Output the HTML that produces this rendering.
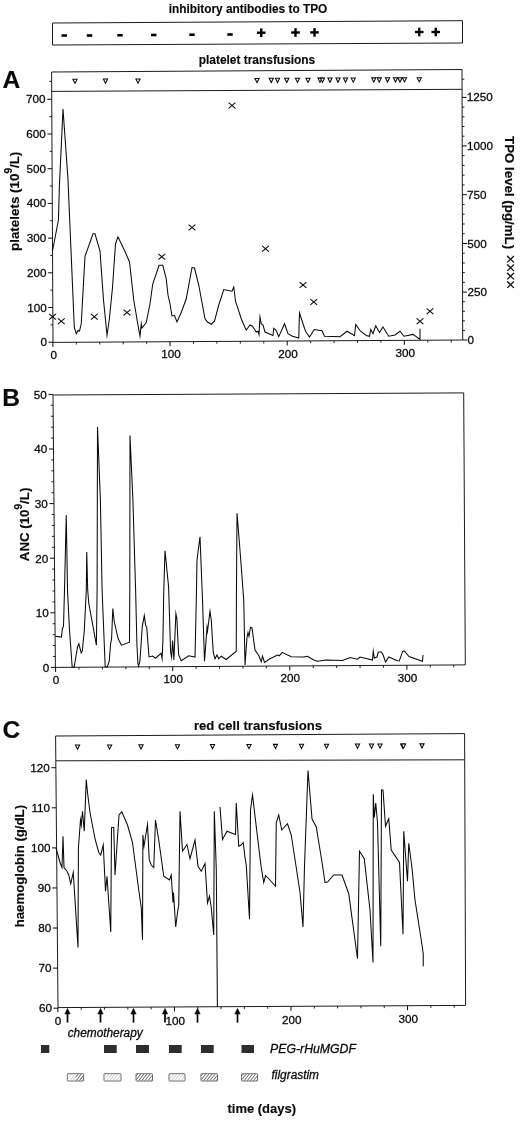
<!DOCTYPE html>
<html lang="en">
<head>
<meta charset="utf-8">
<title>Figure: platelets, ANC and haemoglobin over time</title>
<style>
html,body{margin:0;padding:0;background:#fff;}
body{width:520px;height:1122px;overflow:hidden;}
svg{display:block;}
svg text{font-family:"Liberation Sans", Arial, Helvetica, sans-serif;fill:#0a0a0a;stroke:#0a0a0a;stroke-width:0.28px;}
svg text.b{stroke-width:0.15px;}
</style>
</head>
<body>
<svg width="520" height="1122" viewBox="0 0 520 1122">
<defs>
</defs>
<rect width="520" height="1122" fill="#fff"/>
<polygon points="52.50,23.00 462.50,20.70 462.50,43.00 52.50,45.00" fill="none" stroke="#1c1c1c" stroke-width="1.0" stroke-linejoin="miter" stroke-miterlimit="10"/>
<text x="248.00" y="13.20" class="b" font-size="12" font-weight="bold" font-style="normal" text-anchor="middle" textLength="158.6" lengthAdjust="spacingAndGlyphs">inhibitory antibodies to TPO</text>
<line x1="61.55" y1="35.50" x2="66.95" y2="35.50" stroke="#000" stroke-width="2.6"/>
<line x1="86.80" y1="35.50" x2="92.20" y2="35.50" stroke="#000" stroke-width="2.6"/>
<line x1="117.30" y1="35.25" x2="122.70" y2="35.25" stroke="#000" stroke-width="2.6"/>
<line x1="151.05" y1="35.00" x2="156.45" y2="35.00" stroke="#000" stroke-width="2.6"/>
<line x1="189.30" y1="34.70" x2="194.70" y2="34.70" stroke="#000" stroke-width="2.6"/>
<line x1="227.30" y1="34.50" x2="232.70" y2="34.50" stroke="#000" stroke-width="2.6"/>
<line x1="256.95" y1="32.70" x2="265.55" y2="32.70" stroke="#000" stroke-width="2.4"/>
<line x1="261.25" y1="28.40" x2="261.25" y2="37.00" stroke="#000" stroke-width="2.4"/>
<line x1="291.20" y1="32.50" x2="299.80" y2="32.50" stroke="#000" stroke-width="2.4"/>
<line x1="295.50" y1="28.20" x2="295.50" y2="36.80" stroke="#000" stroke-width="2.4"/>
<line x1="310.20" y1="32.40" x2="318.80" y2="32.40" stroke="#000" stroke-width="2.4"/>
<line x1="314.50" y1="28.10" x2="314.50" y2="36.70" stroke="#000" stroke-width="2.4"/>
<line x1="414.95" y1="32.00" x2="423.55" y2="32.00" stroke="#000" stroke-width="2.4"/>
<line x1="419.25" y1="27.70" x2="419.25" y2="36.30" stroke="#000" stroke-width="2.4"/>
<line x1="431.45" y1="32.00" x2="440.05" y2="32.00" stroke="#000" stroke-width="2.4"/>
<line x1="435.75" y1="27.70" x2="435.75" y2="36.30" stroke="#000" stroke-width="2.4"/>
<text x="257.00" y="64.00" class="b" font-size="12" font-weight="bold" font-style="normal" text-anchor="middle" textLength="116.5" lengthAdjust="spacingAndGlyphs">platelet transfusions</text>
<text x="2.60" y="88.40" class="b" font-size="24.6" font-weight="bold" font-style="normal" text-anchor="start">A</text>
<polygon points="51.60,72.00 462.00,69.50 462.70,340.00 53.00,342.40" fill="none" stroke="#1c1c1c" stroke-width="1.0" stroke-linejoin="miter" stroke-miterlimit="10"/>
<line x1="51.70" y1="91.40" x2="462.00" y2="89.30" stroke="#1c1c1c" stroke-width="1.0"/>
<line x1="48.50" y1="342.20" x2="53.00" y2="342.20" stroke="#0a0a0a" stroke-width="1.0"/>
<text x="46.90" y="346.20" font-size="11.7" font-weight="normal" font-style="normal" text-anchor="end">0</text>
<line x1="50.61" y1="324.85" x2="52.91" y2="324.85" stroke="#0a0a0a" stroke-width="0.9"/>
<line x1="48.32" y1="307.50" x2="52.82" y2="307.50" stroke="#0a0a0a" stroke-width="1.0"/>
<text x="46.72" y="311.50" font-size="11.7" font-weight="normal" font-style="normal" text-anchor="end">100</text>
<line x1="50.43" y1="290.15" x2="52.73" y2="290.15" stroke="#0a0a0a" stroke-width="0.9"/>
<line x1="48.14" y1="272.80" x2="52.64" y2="272.80" stroke="#0a0a0a" stroke-width="1.0"/>
<text x="46.54" y="276.80" font-size="11.7" font-weight="normal" font-style="normal" text-anchor="end">200</text>
<line x1="50.25" y1="255.45" x2="52.55" y2="255.45" stroke="#0a0a0a" stroke-width="0.9"/>
<line x1="47.96" y1="238.10" x2="52.46" y2="238.10" stroke="#0a0a0a" stroke-width="1.0"/>
<text x="46.36" y="242.10" font-size="11.7" font-weight="normal" font-style="normal" text-anchor="end">300</text>
<line x1="50.07" y1="220.75" x2="52.37" y2="220.75" stroke="#0a0a0a" stroke-width="0.9"/>
<line x1="47.78" y1="203.40" x2="52.28" y2="203.40" stroke="#0a0a0a" stroke-width="1.0"/>
<text x="46.18" y="207.40" font-size="11.7" font-weight="normal" font-style="normal" text-anchor="end">400</text>
<line x1="49.89" y1="186.05" x2="52.19" y2="186.05" stroke="#0a0a0a" stroke-width="0.9"/>
<line x1="47.60" y1="168.70" x2="52.10" y2="168.70" stroke="#0a0a0a" stroke-width="1.0"/>
<text x="46.00" y="172.70" font-size="11.7" font-weight="normal" font-style="normal" text-anchor="end">500</text>
<line x1="49.71" y1="151.35" x2="52.01" y2="151.35" stroke="#0a0a0a" stroke-width="0.9"/>
<line x1="47.42" y1="134.00" x2="51.92" y2="134.00" stroke="#0a0a0a" stroke-width="1.0"/>
<text x="45.82" y="138.00" font-size="11.7" font-weight="normal" font-style="normal" text-anchor="end">600</text>
<line x1="49.53" y1="116.65" x2="51.83" y2="116.65" stroke="#0a0a0a" stroke-width="0.9"/>
<line x1="47.24" y1="99.30" x2="51.74" y2="99.30" stroke="#0a0a0a" stroke-width="1.0"/>
<text x="45.64" y="103.30" font-size="11.7" font-weight="normal" font-style="normal" text-anchor="end">700</text>
<line x1="49.35" y1="81.30" x2="51.65" y2="81.30" stroke="#0a0a0a" stroke-width="0.9"/>
<line x1="462.70" y1="340.00" x2="467.20" y2="340.00" stroke="#0a0a0a" stroke-width="1.0"/>
<text x="467.50" y="344.00" font-size="11.7" font-weight="normal" font-style="normal" text-anchor="start">0</text>
<line x1="462.68" y1="330.42" x2="464.98" y2="330.42" stroke="#0a0a0a" stroke-width="0.9"/>
<line x1="462.65" y1="320.84" x2="464.95" y2="320.84" stroke="#0a0a0a" stroke-width="0.9"/>
<line x1="462.63" y1="311.26" x2="464.93" y2="311.26" stroke="#0a0a0a" stroke-width="0.9"/>
<line x1="462.60" y1="301.68" x2="464.90" y2="301.68" stroke="#0a0a0a" stroke-width="0.9"/>
<line x1="462.58" y1="292.10" x2="467.08" y2="292.10" stroke="#0a0a0a" stroke-width="1.0"/>
<text x="467.38" y="296.10" font-size="11.7" font-weight="normal" font-style="normal" text-anchor="start">250</text>
<line x1="462.55" y1="282.38" x2="464.85" y2="282.38" stroke="#0a0a0a" stroke-width="0.9"/>
<line x1="462.53" y1="272.66" x2="464.83" y2="272.66" stroke="#0a0a0a" stroke-width="0.9"/>
<line x1="462.50" y1="262.94" x2="464.80" y2="262.94" stroke="#0a0a0a" stroke-width="0.9"/>
<line x1="462.48" y1="253.22" x2="464.78" y2="253.22" stroke="#0a0a0a" stroke-width="0.9"/>
<line x1="462.45" y1="243.50" x2="466.95" y2="243.50" stroke="#0a0a0a" stroke-width="1.0"/>
<text x="467.25" y="247.50" font-size="11.7" font-weight="normal" font-style="normal" text-anchor="start">500</text>
<line x1="462.43" y1="233.74" x2="464.73" y2="233.74" stroke="#0a0a0a" stroke-width="0.9"/>
<line x1="462.40" y1="223.98" x2="464.70" y2="223.98" stroke="#0a0a0a" stroke-width="0.9"/>
<line x1="462.37" y1="214.22" x2="464.67" y2="214.22" stroke="#0a0a0a" stroke-width="0.9"/>
<line x1="462.35" y1="204.46" x2="464.65" y2="204.46" stroke="#0a0a0a" stroke-width="0.9"/>
<line x1="462.32" y1="194.70" x2="466.82" y2="194.70" stroke="#0a0a0a" stroke-width="1.0"/>
<text x="467.12" y="198.70" font-size="11.7" font-weight="normal" font-style="normal" text-anchor="start">750</text>
<line x1="462.30" y1="184.94" x2="464.60" y2="184.94" stroke="#0a0a0a" stroke-width="0.9"/>
<line x1="462.27" y1="175.18" x2="464.57" y2="175.18" stroke="#0a0a0a" stroke-width="0.9"/>
<line x1="462.25" y1="165.42" x2="464.55" y2="165.42" stroke="#0a0a0a" stroke-width="0.9"/>
<line x1="462.22" y1="155.66" x2="464.52" y2="155.66" stroke="#0a0a0a" stroke-width="0.9"/>
<line x1="462.20" y1="145.90" x2="466.70" y2="145.90" stroke="#0a0a0a" stroke-width="1.0"/>
<text x="467.00" y="149.90" font-size="11.7" font-weight="normal" font-style="normal" text-anchor="start">1000</text>
<line x1="462.17" y1="136.20" x2="464.47" y2="136.20" stroke="#0a0a0a" stroke-width="0.9"/>
<line x1="462.15" y1="126.50" x2="464.45" y2="126.50" stroke="#0a0a0a" stroke-width="0.9"/>
<line x1="462.12" y1="116.80" x2="464.42" y2="116.80" stroke="#0a0a0a" stroke-width="0.9"/>
<line x1="462.10" y1="107.10" x2="464.40" y2="107.10" stroke="#0a0a0a" stroke-width="0.9"/>
<line x1="462.07" y1="97.40" x2="466.57" y2="97.40" stroke="#0a0a0a" stroke-width="1.0"/>
<text x="466.87" y="101.40" font-size="11.7" font-weight="normal" font-style="normal" text-anchor="start">1250</text>
<line x1="462.03" y1="79.20" x2="464.33" y2="79.20" stroke="#0a0a0a" stroke-width="0.9"/>
<line x1="52.90" y1="342.40" x2="52.90" y2="346.90" stroke="#0a0a0a" stroke-width="1.0"/>
<text x="53.80" y="359.00" font-size="11.7" font-weight="normal" font-style="normal" text-anchor="middle">0</text>
<line x1="76.33" y1="342.26" x2="76.33" y2="344.56" stroke="#0a0a0a" stroke-width="0.9"/>
<line x1="99.76" y1="342.13" x2="99.76" y2="344.43" stroke="#0a0a0a" stroke-width="0.9"/>
<line x1="123.19" y1="341.99" x2="123.19" y2="344.29" stroke="#0a0a0a" stroke-width="0.9"/>
<line x1="146.62" y1="341.85" x2="146.62" y2="344.15" stroke="#0a0a0a" stroke-width="0.9"/>
<line x1="170.05" y1="341.71" x2="170.05" y2="346.21" stroke="#0a0a0a" stroke-width="1.0"/>
<text x="170.95" y="358.31" font-size="11.7" font-weight="normal" font-style="normal" text-anchor="middle">100</text>
<line x1="193.48" y1="341.58" x2="193.48" y2="343.88" stroke="#0a0a0a" stroke-width="0.9"/>
<line x1="216.91" y1="341.44" x2="216.91" y2="343.74" stroke="#0a0a0a" stroke-width="0.9"/>
<line x1="240.34" y1="341.30" x2="240.34" y2="343.60" stroke="#0a0a0a" stroke-width="0.9"/>
<line x1="263.77" y1="341.17" x2="263.77" y2="343.47" stroke="#0a0a0a" stroke-width="0.9"/>
<line x1="287.20" y1="341.03" x2="287.20" y2="345.53" stroke="#0a0a0a" stroke-width="1.0"/>
<text x="288.10" y="357.63" font-size="11.7" font-weight="normal" font-style="normal" text-anchor="middle">200</text>
<line x1="310.63" y1="340.89" x2="310.63" y2="343.19" stroke="#0a0a0a" stroke-width="0.9"/>
<line x1="334.06" y1="340.75" x2="334.06" y2="343.05" stroke="#0a0a0a" stroke-width="0.9"/>
<line x1="357.49" y1="340.62" x2="357.49" y2="342.92" stroke="#0a0a0a" stroke-width="0.9"/>
<line x1="380.92" y1="340.48" x2="380.92" y2="342.78" stroke="#0a0a0a" stroke-width="0.9"/>
<line x1="404.35" y1="340.34" x2="404.35" y2="344.84" stroke="#0a0a0a" stroke-width="1.0"/>
<text x="405.25" y="356.94" font-size="11.7" font-weight="normal" font-style="normal" text-anchor="middle">300</text>
<line x1="427.78" y1="340.20" x2="427.78" y2="342.50" stroke="#0a0a0a" stroke-width="0.9"/>
<line x1="451.21" y1="340.07" x2="451.21" y2="342.37" stroke="#0a0a0a" stroke-width="0.9"/>
<text x="19.30" y="251.00" class="b" font-size="13.4" font-weight="bold" font-style="normal" text-anchor="start" transform="rotate(-90 19.30 251.00)">platelets (10<tspan font-size="10" dy="-7.0">9</tspan><tspan dy="7.0">/L)</tspan></text>
<text x="505.00" y="136.10" class="b" font-size="13.2" font-weight="bold" font-style="normal" text-anchor="start" transform="rotate(90 505.00 136.10)" textLength="113" lengthAdjust="spacingAndGlyphs">TPO level (pg/mL)</text>
<text x="504.50" y="254.60" font-size="16" font-weight="normal" text-anchor="start" transform="rotate(90 504.50 254.60)" textLength="34.8" lengthAdjust="spacing" style="stroke-width:0.1px">××××</text>
<polygon points="72.90,79.20 77.10,79.20 75.00,83.40" fill="#fff" stroke="#0a0a0a" stroke-width="1.05" stroke-linejoin="miter" stroke-miterlimit="10"/>
<polygon points="103.40,79.07 107.60,79.07 105.50,83.27" fill="#fff" stroke="#0a0a0a" stroke-width="1.05" stroke-linejoin="miter" stroke-miterlimit="10"/>
<polygon points="135.90,78.92 140.10,78.92 138.00,83.12" fill="#fff" stroke="#0a0a0a" stroke-width="1.05" stroke-linejoin="miter" stroke-miterlimit="10"/>
<polygon points="254.90,78.40 259.10,78.40 257.00,82.60" fill="#fff" stroke="#0a0a0a" stroke-width="1.05" stroke-linejoin="miter" stroke-miterlimit="10"/>
<polygon points="269.15,78.34 273.35,78.34 271.25,82.54" fill="#fff" stroke="#0a0a0a" stroke-width="1.05" stroke-linejoin="miter" stroke-miterlimit="10"/>
<polygon points="275.40,78.31 279.60,78.31 277.50,82.51" fill="#fff" stroke="#0a0a0a" stroke-width="1.05" stroke-linejoin="miter" stroke-miterlimit="10"/>
<polygon points="284.65,78.27 288.85,78.27 286.75,82.47" fill="#fff" stroke="#0a0a0a" stroke-width="1.05" stroke-linejoin="miter" stroke-miterlimit="10"/>
<polygon points="295.40,78.22 299.60,78.22 297.50,82.42" fill="#fff" stroke="#0a0a0a" stroke-width="1.05" stroke-linejoin="miter" stroke-miterlimit="10"/>
<polygon points="305.90,78.18 310.10,78.18 308.00,82.38" fill="#fff" stroke="#0a0a0a" stroke-width="1.05" stroke-linejoin="miter" stroke-miterlimit="10"/>
<polygon points="317.90,78.12 322.10,78.12 320.00,82.32" fill="#fff" stroke="#0a0a0a" stroke-width="1.05" stroke-linejoin="miter" stroke-miterlimit="10"/>
<polygon points="320.40,78.11 324.60,78.11 322.50,82.31" fill="#fff" stroke="#0a0a0a" stroke-width="1.05" stroke-linejoin="miter" stroke-miterlimit="10"/>
<polygon points="327.90,78.08 332.10,78.08 330.00,82.28" fill="#fff" stroke="#0a0a0a" stroke-width="1.05" stroke-linejoin="miter" stroke-miterlimit="10"/>
<polygon points="335.90,78.04 340.10,78.04 338.00,82.24" fill="#fff" stroke="#0a0a0a" stroke-width="1.05" stroke-linejoin="miter" stroke-miterlimit="10"/>
<polygon points="343.40,78.01 347.60,78.01 345.50,82.21" fill="#fff" stroke="#0a0a0a" stroke-width="1.05" stroke-linejoin="miter" stroke-miterlimit="10"/>
<polygon points="351.15,77.98 355.35,77.98 353.25,82.18" fill="#fff" stroke="#0a0a0a" stroke-width="1.05" stroke-linejoin="miter" stroke-miterlimit="10"/>
<polygon points="371.65,77.89 375.85,77.89 373.75,82.09" fill="#fff" stroke="#0a0a0a" stroke-width="1.05" stroke-linejoin="miter" stroke-miterlimit="10"/>
<polygon points="377.15,77.86 381.35,77.86 379.25,82.06" fill="#fff" stroke="#0a0a0a" stroke-width="1.05" stroke-linejoin="miter" stroke-miterlimit="10"/>
<polygon points="385.40,77.83 389.60,77.83 387.50,82.03" fill="#fff" stroke="#0a0a0a" stroke-width="1.05" stroke-linejoin="miter" stroke-miterlimit="10"/>
<polygon points="393.40,77.79 397.60,77.79 395.50,81.99" fill="#fff" stroke="#0a0a0a" stroke-width="1.05" stroke-linejoin="miter" stroke-miterlimit="10"/>
<polygon points="397.90,77.77 402.10,77.77 400.00,81.97" fill="#fff" stroke="#0a0a0a" stroke-width="1.05" stroke-linejoin="miter" stroke-miterlimit="10"/>
<polygon points="402.40,77.75 406.60,77.75 404.50,81.95" fill="#fff" stroke="#0a0a0a" stroke-width="1.05" stroke-linejoin="miter" stroke-miterlimit="10"/>
<polygon points="417.15,77.69 421.35,77.69 419.25,81.89" fill="#fff" stroke="#0a0a0a" stroke-width="1.05" stroke-linejoin="miter" stroke-miterlimit="10"/>
<polyline points="52.50,251.00 58.40,220.00 59.40,186.00 63.00,109.00 67.90,178.00 72.70,290.00 74.30,327.50 76.25,333.75 78.00,330.50 79.50,331.00 81.25,323.75 83.25,287.50 85.00,256.50 93.00,233.75 95.00,233.75 100.00,251.00 103.50,300.00 107.00,335.00 109.25,320.00 112.50,287.50 115.50,243.75 118.00,236.75 126.00,253.75 129.50,262.00 133.75,300.00 137.50,322.50 140.00,336.00 141.25,323.75 142.00,328.00 146.25,322.50 150.00,303.75 152.75,284.00 159.10,265.30 162.80,265.30 166.10,278.00 168.00,295.00 170.00,303.75 172.00,316.00 174.50,315.50 177.00,322.00 181.25,312.50 186.25,298.75 192.00,267.50 194.50,268.00 198.75,285.00 205.00,318.75 207.50,322.00 211.25,324.25 214.50,321.25 218.75,305.00 223.75,289.50 232.00,291.25 233.75,287.00 235.50,301.25 241.25,318.75 245.00,327.50 246.25,330.00 250.00,325.00 252.50,326.25 256.25,332.00 258.00,331.25 259.00,334.50 260.00,317.00 261.25,323.75 263.00,325.00 265.00,332.00 273.00,335.50 273.75,328.25 276.25,330.50 278.75,336.75 284.50,323.75 288.00,333.75 292.50,336.25 298.75,338.00 299.50,313.00 305.50,331.25 309.50,337.00 314.25,329.50 322.00,330.75 324.50,336.25 340.00,336.75 347.00,331.25 354.50,335.75 355.75,324.50 360.50,331.25 366.25,335.50 369.50,336.25 370.75,329.50 373.00,333.75 375.75,325.75 379.50,332.50 383.00,327.00 388.75,336.25 395.00,335.00 400.00,331.25 404.00,336.25 413.00,334.40 420.00,339.50 420.00,328.75" fill="none" stroke="#0a0a0a" stroke-width="1.05" stroke-linejoin="miter" stroke-miterlimit="10"/>
<line x1="49.10" y1="313.85" x2="55.90" y2="319.65" stroke="#0a0a0a" stroke-width="1.1"/>
<line x1="49.10" y1="319.65" x2="55.90" y2="313.85" stroke="#0a0a0a" stroke-width="1.1"/>
<line x1="57.85" y1="318.35" x2="64.65" y2="324.15" stroke="#0a0a0a" stroke-width="1.1"/>
<line x1="57.85" y1="324.15" x2="64.65" y2="318.35" stroke="#0a0a0a" stroke-width="1.1"/>
<line x1="90.85" y1="313.85" x2="97.65" y2="319.65" stroke="#0a0a0a" stroke-width="1.1"/>
<line x1="90.85" y1="319.65" x2="97.65" y2="313.85" stroke="#0a0a0a" stroke-width="1.1"/>
<line x1="123.60" y1="309.60" x2="130.40" y2="315.40" stroke="#0a0a0a" stroke-width="1.1"/>
<line x1="123.60" y1="315.40" x2="130.40" y2="309.60" stroke="#0a0a0a" stroke-width="1.1"/>
<line x1="158.35" y1="253.85" x2="165.15" y2="259.65" stroke="#0a0a0a" stroke-width="1.1"/>
<line x1="158.35" y1="259.65" x2="165.15" y2="253.85" stroke="#0a0a0a" stroke-width="1.1"/>
<line x1="188.60" y1="224.60" x2="195.40" y2="230.40" stroke="#0a0a0a" stroke-width="1.1"/>
<line x1="188.60" y1="230.40" x2="195.40" y2="224.60" stroke="#0a0a0a" stroke-width="1.1"/>
<line x1="228.60" y1="102.60" x2="235.40" y2="108.40" stroke="#0a0a0a" stroke-width="1.1"/>
<line x1="228.60" y1="108.40" x2="235.40" y2="102.60" stroke="#0a0a0a" stroke-width="1.1"/>
<line x1="262.10" y1="245.85" x2="268.90" y2="251.65" stroke="#0a0a0a" stroke-width="1.1"/>
<line x1="262.10" y1="251.65" x2="268.90" y2="245.85" stroke="#0a0a0a" stroke-width="1.1"/>
<line x1="299.60" y1="282.10" x2="306.40" y2="287.90" stroke="#0a0a0a" stroke-width="1.1"/>
<line x1="299.60" y1="287.90" x2="306.40" y2="282.10" stroke="#0a0a0a" stroke-width="1.1"/>
<line x1="310.35" y1="299.10" x2="317.15" y2="304.90" stroke="#0a0a0a" stroke-width="1.1"/>
<line x1="310.35" y1="304.90" x2="317.15" y2="299.10" stroke="#0a0a0a" stroke-width="1.1"/>
<line x1="416.60" y1="318.35" x2="423.40" y2="324.15" stroke="#0a0a0a" stroke-width="1.1"/>
<line x1="416.60" y1="324.15" x2="423.40" y2="318.35" stroke="#0a0a0a" stroke-width="1.1"/>
<line x1="426.60" y1="308.35" x2="433.40" y2="314.15" stroke="#0a0a0a" stroke-width="1.1"/>
<line x1="426.60" y1="314.15" x2="433.40" y2="308.35" stroke="#0a0a0a" stroke-width="1.1"/>
<text x="2.30" y="405.80" class="b" font-size="24.6" font-weight="bold" font-style="normal" text-anchor="start">B</text>
<polygon points="53.00,395.00 463.70,392.90 465.30,664.90 55.40,667.40" fill="none" stroke="#1c1c1c" stroke-width="1.0" stroke-linejoin="miter" stroke-miterlimit="10"/>
<line x1="50.90" y1="667.40" x2="55.40" y2="667.40" stroke="#0a0a0a" stroke-width="1.0"/>
<text x="49.30" y="671.70" font-size="11.7" font-weight="normal" font-style="normal" text-anchor="end">0</text>
<line x1="53.00" y1="656.48" x2="55.30" y2="656.48" stroke="#0a0a0a" stroke-width="0.9"/>
<line x1="52.91" y1="645.56" x2="55.21" y2="645.56" stroke="#0a0a0a" stroke-width="0.9"/>
<line x1="52.81" y1="634.64" x2="55.11" y2="634.64" stroke="#0a0a0a" stroke-width="0.9"/>
<line x1="52.72" y1="623.72" x2="55.02" y2="623.72" stroke="#0a0a0a" stroke-width="0.9"/>
<line x1="50.42" y1="612.80" x2="54.92" y2="612.80" stroke="#0a0a0a" stroke-width="1.0"/>
<text x="48.82" y="617.10" font-size="11.7" font-weight="normal" font-style="normal" text-anchor="end">10</text>
<line x1="52.52" y1="601.88" x2="54.82" y2="601.88" stroke="#0a0a0a" stroke-width="0.9"/>
<line x1="52.43" y1="590.96" x2="54.73" y2="590.96" stroke="#0a0a0a" stroke-width="0.9"/>
<line x1="52.33" y1="580.04" x2="54.63" y2="580.04" stroke="#0a0a0a" stroke-width="0.9"/>
<line x1="52.23" y1="569.12" x2="54.53" y2="569.12" stroke="#0a0a0a" stroke-width="0.9"/>
<line x1="49.94" y1="558.20" x2="54.44" y2="558.20" stroke="#0a0a0a" stroke-width="1.0"/>
<text x="48.34" y="562.50" font-size="11.7" font-weight="normal" font-style="normal" text-anchor="end">20</text>
<line x1="52.04" y1="547.28" x2="54.34" y2="547.28" stroke="#0a0a0a" stroke-width="0.9"/>
<line x1="51.95" y1="536.36" x2="54.25" y2="536.36" stroke="#0a0a0a" stroke-width="0.9"/>
<line x1="51.85" y1="525.44" x2="54.15" y2="525.44" stroke="#0a0a0a" stroke-width="0.9"/>
<line x1="51.75" y1="514.52" x2="54.05" y2="514.52" stroke="#0a0a0a" stroke-width="0.9"/>
<line x1="49.46" y1="503.60" x2="53.96" y2="503.60" stroke="#0a0a0a" stroke-width="1.0"/>
<text x="47.86" y="507.90" font-size="11.7" font-weight="normal" font-style="normal" text-anchor="end">30</text>
<line x1="51.56" y1="492.68" x2="53.86" y2="492.68" stroke="#0a0a0a" stroke-width="0.9"/>
<line x1="51.46" y1="481.76" x2="53.76" y2="481.76" stroke="#0a0a0a" stroke-width="0.9"/>
<line x1="51.37" y1="470.84" x2="53.67" y2="470.84" stroke="#0a0a0a" stroke-width="0.9"/>
<line x1="51.27" y1="459.92" x2="53.57" y2="459.92" stroke="#0a0a0a" stroke-width="0.9"/>
<line x1="48.98" y1="449.00" x2="53.48" y2="449.00" stroke="#0a0a0a" stroke-width="1.0"/>
<text x="47.38" y="453.30" font-size="11.7" font-weight="normal" font-style="normal" text-anchor="end">40</text>
<line x1="51.08" y1="438.08" x2="53.38" y2="438.08" stroke="#0a0a0a" stroke-width="0.9"/>
<line x1="50.98" y1="427.16" x2="53.28" y2="427.16" stroke="#0a0a0a" stroke-width="0.9"/>
<line x1="50.89" y1="416.24" x2="53.19" y2="416.24" stroke="#0a0a0a" stroke-width="0.9"/>
<line x1="50.79" y1="405.32" x2="53.09" y2="405.32" stroke="#0a0a0a" stroke-width="0.9"/>
<line x1="48.49" y1="394.40" x2="52.99" y2="394.40" stroke="#0a0a0a" stroke-width="1.0"/>
<text x="46.89" y="398.70" font-size="11.7" font-weight="normal" font-style="normal" text-anchor="end">50</text>
<line x1="55.60" y1="667.40" x2="55.60" y2="671.90" stroke="#0a0a0a" stroke-width="1.0"/>
<text x="56.10" y="683.90" font-size="11.7" font-weight="normal" font-style="normal" text-anchor="middle">0</text>
<line x1="79.02" y1="667.26" x2="79.02" y2="669.56" stroke="#0a0a0a" stroke-width="0.9"/>
<line x1="102.44" y1="667.11" x2="102.44" y2="669.41" stroke="#0a0a0a" stroke-width="0.9"/>
<line x1="125.86" y1="666.97" x2="125.86" y2="669.27" stroke="#0a0a0a" stroke-width="0.9"/>
<line x1="149.28" y1="666.83" x2="149.28" y2="669.13" stroke="#0a0a0a" stroke-width="0.9"/>
<line x1="172.70" y1="666.68" x2="172.70" y2="671.18" stroke="#0a0a0a" stroke-width="1.0"/>
<text x="173.20" y="683.18" font-size="11.7" font-weight="normal" font-style="normal" text-anchor="middle">100</text>
<line x1="196.12" y1="666.54" x2="196.12" y2="668.84" stroke="#0a0a0a" stroke-width="0.9"/>
<line x1="219.54" y1="666.40" x2="219.54" y2="668.70" stroke="#0a0a0a" stroke-width="0.9"/>
<line x1="242.96" y1="666.26" x2="242.96" y2="668.56" stroke="#0a0a0a" stroke-width="0.9"/>
<line x1="266.38" y1="666.11" x2="266.38" y2="668.41" stroke="#0a0a0a" stroke-width="0.9"/>
<line x1="289.80" y1="665.97" x2="289.80" y2="670.47" stroke="#0a0a0a" stroke-width="1.0"/>
<text x="290.30" y="682.47" font-size="11.7" font-weight="normal" font-style="normal" text-anchor="middle">200</text>
<line x1="313.22" y1="665.83" x2="313.22" y2="668.13" stroke="#0a0a0a" stroke-width="0.9"/>
<line x1="336.64" y1="665.68" x2="336.64" y2="667.98" stroke="#0a0a0a" stroke-width="0.9"/>
<line x1="360.06" y1="665.54" x2="360.06" y2="667.84" stroke="#0a0a0a" stroke-width="0.9"/>
<line x1="383.48" y1="665.40" x2="383.48" y2="667.70" stroke="#0a0a0a" stroke-width="0.9"/>
<line x1="406.90" y1="665.26" x2="406.90" y2="669.76" stroke="#0a0a0a" stroke-width="1.0"/>
<text x="407.40" y="681.76" font-size="11.7" font-weight="normal" font-style="normal" text-anchor="middle">300</text>
<line x1="430.32" y1="665.11" x2="430.32" y2="667.41" stroke="#0a0a0a" stroke-width="0.9"/>
<line x1="453.74" y1="664.97" x2="453.74" y2="667.27" stroke="#0a0a0a" stroke-width="0.9"/>
<text x="28.70" y="561.20" class="b" font-size="13.3" font-weight="bold" font-style="normal" text-anchor="start" transform="rotate(-90 28.70 561.20)">ANC (10<tspan font-size="10" dy="-7.0">9</tspan><tspan dy="7.0">/L)</tspan></text>
<polyline points="55.40,636.20 61.40,637.10 62.40,628.40 63.50,626.30 64.50,590.00 66.25,515.00 67.50,590.00 69.50,630.40 72.20,667.00 74.20,667.00 77.60,646.50 78.90,643.80 81.20,653.00 82.30,651.20 84.30,630.40 86.30,590.00 86.75,552.00 87.70,590.00 88.80,603.50 96.40,645.20 97.10,590.00 97.50,427.00 100.40,500.00 102.10,590.00 105.20,667.00 107.20,667.00 109.20,661.30 110.60,643.80 111.60,638.50 112.80,608.50 114.20,621.50 118.10,638.50 121.40,645.20 129.50,642.20 129.80,590.00 130.00,435.50 132.90,500.00 135.60,590.00 136.90,643.80 137.90,663.40 138.50,666.00 139.90,661.30 142.30,626.30 144.30,615.60 145.70,625.70 146.70,627.00 149.00,656.90 152.80,656.00 155.50,658.20 161.10,653.30 162.10,658.60 162.90,641.00 163.80,590.00 165.00,550.75 168.60,587.00 170.60,651.90 171.60,657.30 172.60,640.50 173.90,660.00 174.60,643.80 175.90,613.60 176.90,619.00 178.60,654.60 181.25,660.75 188.75,655.75 195.00,657.00 196.30,600.00 197.00,560.00 200.00,536.75 202.50,600.00 204.50,661.25 207.00,627.50 207.50,631.25 210.00,611.25 211.25,620.00 213.25,652.50 215.00,658.75 217.00,655.00 218.75,658.75 221.25,656.25 226.25,659.50 236.25,651.25 236.40,600.00 237.00,513.25 239.50,543.75 243.75,600.00 245.00,665.00 247.00,637.50 248.00,632.50 249.00,636.25 250.50,627.50 252.00,628.00 255.00,650.00 258.75,655.50 261.25,661.75 262.50,656.25 264.50,662.50 270.00,658.75 277.50,655.00 279.25,655.75 282.20,652.30 285.00,653.75 291.25,656.75 303.75,657.00 307.50,656.25 313.75,660.00 317.50,661.25 326.25,660.00 342.50,660.50 350.00,657.50 357.50,659.25 360.00,657.00 372.50,660.00 373.25,651.25 374.25,658.00 377.00,657.00 378.25,652.00 381.25,652.00 383.00,654.50 385.50,662.00 388.75,657.00 397.50,660.75 399.30,661.00 402.70,651.20 404.40,651.00 409.00,656.50 422.50,661.25 423.00,655.00" fill="none" stroke="#0a0a0a" stroke-width="1.05" stroke-linejoin="miter" stroke-miterlimit="10"/>
<text x="258.00" y="729.60" class="b" font-size="13" font-weight="bold" font-style="normal" text-anchor="middle" textLength="128" lengthAdjust="spacingAndGlyphs">red cell transfusions</text>
<text x="2.50" y="738.30" class="b" font-size="24.6" font-weight="bold" font-style="normal" text-anchor="start">C</text>
<polygon points="55.60,736.00 464.60,733.60 465.60,1005.40 58.00,1007.60" fill="none" stroke="#1c1c1c" stroke-width="1.0" stroke-linejoin="miter" stroke-miterlimit="10"/>
<line x1="55.80" y1="760.80" x2="464.70" y2="759.80" stroke="#1c1c1c" stroke-width="1.0"/>
<line x1="53.51" y1="1008.20" x2="58.01" y2="1008.20" stroke="#0a0a0a" stroke-width="1.0"/>
<text x="51.91" y="1012.40" font-size="11.7" font-weight="normal" font-style="normal" text-anchor="end">60</text>
<line x1="53.15" y1="968.12" x2="57.65" y2="968.12" stroke="#0a0a0a" stroke-width="1.0"/>
<text x="51.55" y="972.32" font-size="11.7" font-weight="normal" font-style="normal" text-anchor="end">70</text>
<line x1="52.80" y1="928.04" x2="57.30" y2="928.04" stroke="#0a0a0a" stroke-width="1.0"/>
<text x="51.20" y="932.24" font-size="11.7" font-weight="normal" font-style="normal" text-anchor="end">80</text>
<line x1="52.44" y1="887.96" x2="56.94" y2="887.96" stroke="#0a0a0a" stroke-width="1.0"/>
<text x="50.84" y="892.16" font-size="11.7" font-weight="normal" font-style="normal" text-anchor="end">90</text>
<line x1="52.09" y1="847.88" x2="56.59" y2="847.88" stroke="#0a0a0a" stroke-width="1.0"/>
<text x="50.49" y="852.08" font-size="11.7" font-weight="normal" font-style="normal" text-anchor="end">100</text>
<line x1="51.73" y1="807.80" x2="56.23" y2="807.80" stroke="#0a0a0a" stroke-width="1.0"/>
<text x="50.13" y="812.00" font-size="11.7" font-weight="normal" font-style="normal" text-anchor="end">110</text>
<line x1="51.38" y1="767.72" x2="55.88" y2="767.72" stroke="#0a0a0a" stroke-width="1.0"/>
<text x="49.78" y="771.92" font-size="11.7" font-weight="normal" font-style="normal" text-anchor="end">120</text>
<line x1="57.90" y1="1007.60" x2="57.90" y2="1012.10" stroke="#0a0a0a" stroke-width="1.0"/>
<text x="58.10" y="1024.50" font-size="11.7" font-weight="normal" font-style="normal" text-anchor="middle">0</text>
<line x1="81.21" y1="1007.47" x2="81.21" y2="1009.77" stroke="#0a0a0a" stroke-width="0.9"/>
<line x1="104.52" y1="1007.35" x2="104.52" y2="1009.65" stroke="#0a0a0a" stroke-width="0.9"/>
<line x1="127.83" y1="1007.22" x2="127.83" y2="1009.52" stroke="#0a0a0a" stroke-width="0.9"/>
<line x1="151.14" y1="1007.10" x2="151.14" y2="1009.40" stroke="#0a0a0a" stroke-width="0.9"/>
<line x1="174.45" y1="1006.97" x2="174.45" y2="1011.47" stroke="#0a0a0a" stroke-width="1.0"/>
<text x="175.25" y="1024.57" font-size="11.7" font-weight="normal" font-style="normal" text-anchor="middle">100</text>
<line x1="197.76" y1="1006.85" x2="197.76" y2="1009.15" stroke="#0a0a0a" stroke-width="0.9"/>
<line x1="221.07" y1="1006.72" x2="221.07" y2="1009.02" stroke="#0a0a0a" stroke-width="0.9"/>
<line x1="244.38" y1="1006.59" x2="244.38" y2="1008.89" stroke="#0a0a0a" stroke-width="0.9"/>
<line x1="267.69" y1="1006.47" x2="267.69" y2="1008.77" stroke="#0a0a0a" stroke-width="0.9"/>
<line x1="291.00" y1="1006.34" x2="291.00" y2="1010.84" stroke="#0a0a0a" stroke-width="1.0"/>
<text x="291.80" y="1023.94" font-size="11.7" font-weight="normal" font-style="normal" text-anchor="middle">200</text>
<line x1="314.31" y1="1006.22" x2="314.31" y2="1008.52" stroke="#0a0a0a" stroke-width="0.9"/>
<line x1="337.62" y1="1006.09" x2="337.62" y2="1008.39" stroke="#0a0a0a" stroke-width="0.9"/>
<line x1="360.93" y1="1005.96" x2="360.93" y2="1008.26" stroke="#0a0a0a" stroke-width="0.9"/>
<line x1="384.24" y1="1005.84" x2="384.24" y2="1008.14" stroke="#0a0a0a" stroke-width="0.9"/>
<line x1="407.55" y1="1005.71" x2="407.55" y2="1010.21" stroke="#0a0a0a" stroke-width="1.0"/>
<text x="408.35" y="1023.31" font-size="11.7" font-weight="normal" font-style="normal" text-anchor="middle">300</text>
<line x1="430.86" y1="1005.59" x2="430.86" y2="1007.89" stroke="#0a0a0a" stroke-width="0.9"/>
<line x1="454.17" y1="1005.46" x2="454.17" y2="1007.76" stroke="#0a0a0a" stroke-width="0.9"/>
<text x="24.20" y="927.30" class="b" font-size="13.2" font-weight="bold" font-style="normal" text-anchor="start" transform="rotate(-90 24.20 927.30)">haemoglobin (g/dL)</text>
<polygon points="75.40,745.03 79.60,745.03 77.50,749.23" fill="#fff" stroke="#0a0a0a" stroke-width="1.05" stroke-linejoin="miter" stroke-miterlimit="10"/>
<polygon points="107.50,744.92 111.70,744.92 109.60,749.12" fill="#fff" stroke="#0a0a0a" stroke-width="1.05" stroke-linejoin="miter" stroke-miterlimit="10"/>
<polygon points="138.90,744.81 143.10,744.81 141.00,749.01" fill="#fff" stroke="#0a0a0a" stroke-width="1.05" stroke-linejoin="miter" stroke-miterlimit="10"/>
<polygon points="175.40,744.69 179.60,744.69 177.50,748.89" fill="#fff" stroke="#0a0a0a" stroke-width="1.05" stroke-linejoin="miter" stroke-miterlimit="10"/>
<polygon points="210.40,744.57 214.60,744.57 212.50,748.77" fill="#fff" stroke="#0a0a0a" stroke-width="1.05" stroke-linejoin="miter" stroke-miterlimit="10"/>
<polygon points="246.90,744.44 251.10,744.44 249.00,748.64" fill="#fff" stroke="#0a0a0a" stroke-width="1.05" stroke-linejoin="miter" stroke-miterlimit="10"/>
<polygon points="273.40,744.35 277.60,744.35 275.50,748.55" fill="#fff" stroke="#0a0a0a" stroke-width="1.05" stroke-linejoin="miter" stroke-miterlimit="10"/>
<polygon points="299.40,744.26 303.60,744.26 301.50,748.46" fill="#fff" stroke="#0a0a0a" stroke-width="1.05" stroke-linejoin="miter" stroke-miterlimit="10"/>
<polygon points="324.40,744.18 328.60,744.18 326.50,748.38" fill="#fff" stroke="#0a0a0a" stroke-width="1.05" stroke-linejoin="miter" stroke-miterlimit="10"/>
<polygon points="355.40,744.07 359.60,744.07 357.50,748.27" fill="#fff" stroke="#0a0a0a" stroke-width="1.05" stroke-linejoin="miter" stroke-miterlimit="10"/>
<polygon points="369.40,744.02 373.60,744.02 371.50,748.22" fill="#fff" stroke="#0a0a0a" stroke-width="1.05" stroke-linejoin="miter" stroke-miterlimit="10"/>
<polygon points="377.90,743.99 382.10,743.99 380.00,748.19" fill="#fff" stroke="#0a0a0a" stroke-width="1.05" stroke-linejoin="miter" stroke-miterlimit="10"/>
<polygon points="400.60,743.92 404.80,743.92 402.70,748.12" fill="#fff" stroke="#0a0a0a" stroke-width="1.05" stroke-linejoin="miter" stroke-miterlimit="10"/>
<polygon points="401.40,743.91 405.60,743.91 403.50,748.11" fill="#fff" stroke="#0a0a0a" stroke-width="1.05" stroke-linejoin="miter" stroke-miterlimit="10"/>
<polygon points="419.90,743.85 424.10,743.85 422.00,748.05" fill="#fff" stroke="#0a0a0a" stroke-width="1.05" stroke-linejoin="miter" stroke-miterlimit="10"/>
<polyline points="56.00,848.00 60.00,862.50 62.00,867.50 63.00,836.25 64.00,867.50 67.00,871.25 68.75,875.00 70.75,883.75 73.25,872.50 75.00,900.00 78.00,947.50 78.40,848.00 80.50,820.00 81.25,825.00 82.50,811.25 84.25,831.25 86.25,779.50 87.50,792.50 90.00,812.50 95.00,838.75 98.75,852.50 100.75,855.00 103.25,845.00 105.50,891.25 107.00,876.25 110.75,932.00 111.50,827.50 113.75,827.50 115.00,875.00 119.00,815.00 121.75,811.75 127.50,825.00 132.50,842.50 138.75,890.00 141.25,907.50 142.50,940.00 142.90,835.00 144.00,846.25 147.50,824.50 149.25,860.00 151.25,865.00 153.75,867.50 155.50,820.00 158.75,840.00 163.75,876.25 169.50,880.00 171.25,875.00 173.00,902.50 173.50,892.50 175.70,927.00 177.50,912.50 178.75,905.00 180.00,811.25 182.50,851.25 187.00,844.50 190.00,858.75 195.00,840.00 198.00,866.25 201.25,871.25 205.00,863.50 207.50,903.00 209.50,896.25 211.25,907.50 213.75,935.00 214.30,811.25 216.30,870.00 217.40,1007.00" fill="none" stroke="#0a0a0a" stroke-width="1.05" stroke-linejoin="miter" stroke-miterlimit="10"/>
<polyline points="220.00,807.00 222.50,839.50 227.00,831.25 235.50,834.50 236.25,803.00 238.75,846.25 241.25,845.00 243.25,842.50 245.00,857.50 246.25,865.00 249.50,919.25 250.50,810.00 252.50,795.00 258.75,847.50 261.25,867.50 263.75,882.50 265.50,875.50 268.75,878.75 275.50,886.25 276.25,822.50 278.75,815.00 281.75,830.00 287.50,823.75 291.25,835.00 296.00,866.00 300.00,892.50 303.00,927.00 304.50,866.00 308.00,770.50 312.00,818.75 316.25,827.00 322.00,862.00 325.00,882.50 327.50,882.00 333.75,875.00 342.00,875.00 348.75,893.75 357.50,958.75 359.50,851.25 364.25,858.75 370.00,910.00 373.00,962.50 373.25,794.25 374.25,817.50 375.75,803.00 377.50,822.50 380.75,946.25 381.50,790.00 383.00,790.00 385.50,826.25 388.75,818.75 391.25,850.00 399.50,862.50 403.00,934.25 403.75,831.25 407.50,881.25 408.75,843.25 412.00,868.00 415.00,900.00 421.25,940.00 423.25,953.75 423.25,966.25" fill="none" stroke="#0a0a0a" stroke-width="1.05" stroke-linejoin="miter" stroke-miterlimit="10"/>
<line x1="67.50" y1="1012.00" x2="67.50" y2="1022.60" stroke="#000" stroke-width="1.7"/>
<polygon points="64.80,1014.00 67.50,1008.40 70.20,1014.00" fill="#000" stroke="#000" stroke-width="0.5" stroke-linejoin="miter" stroke-miterlimit="10"/>
<line x1="100.50" y1="1012.00" x2="100.50" y2="1022.60" stroke="#000" stroke-width="1.7"/>
<polygon points="97.80,1014.00 100.50,1008.40 103.20,1014.00" fill="#000" stroke="#000" stroke-width="0.5" stroke-linejoin="miter" stroke-miterlimit="10"/>
<line x1="133.50" y1="1012.00" x2="133.50" y2="1022.60" stroke="#000" stroke-width="1.7"/>
<polygon points="130.80,1014.00 133.50,1008.40 136.20,1014.00" fill="#000" stroke="#000" stroke-width="0.5" stroke-linejoin="miter" stroke-miterlimit="10"/>
<line x1="165.00" y1="1012.00" x2="165.00" y2="1022.60" stroke="#000" stroke-width="1.7"/>
<polygon points="162.30,1014.00 165.00,1008.40 167.70,1014.00" fill="#000" stroke="#000" stroke-width="0.5" stroke-linejoin="miter" stroke-miterlimit="10"/>
<line x1="197.50" y1="1012.00" x2="197.50" y2="1022.60" stroke="#000" stroke-width="1.7"/>
<polygon points="194.80,1014.00 197.50,1008.40 200.20,1014.00" fill="#000" stroke="#000" stroke-width="0.5" stroke-linejoin="miter" stroke-miterlimit="10"/>
<line x1="237.50" y1="1012.00" x2="237.50" y2="1022.60" stroke="#000" stroke-width="1.7"/>
<polygon points="234.80,1014.00 237.50,1008.40 240.20,1014.00" fill="#000" stroke="#000" stroke-width="0.5" stroke-linejoin="miter" stroke-miterlimit="10"/>
<text x="67.70" y="1036.50" font-size="12" font-weight="normal" font-style="italic" text-anchor="start" textLength="75" lengthAdjust="spacingAndGlyphs">chemotherapy</text>
<text x="270.00" y="1052.60" font-size="12" font-weight="normal" font-style="italic" text-anchor="start" textLength="86" lengthAdjust="spacingAndGlyphs">PEG-rHuMGDF</text>
<text x="271.50" y="1079.00" font-size="12" font-weight="normal" font-style="italic" text-anchor="start" textLength="47.5" lengthAdjust="spacingAndGlyphs">filgrastim</text>
<text x="227.50" y="1113.00" class="b" font-size="13" font-weight="bold" font-style="normal" text-anchor="start" textLength="68.5" lengthAdjust="spacingAndGlyphs">time (days)</text>
<rect x="41" y="1045" width="8.30" height="8" fill="#2e2e2e"/>
<rect x="104" y="1045" width="12.70" height="8" fill="#2e2e2e"/>
<rect x="136" y="1045" width="13.00" height="8" fill="#2e2e2e"/>
<rect x="169" y="1045" width="12.70" height="8" fill="#2e2e2e"/>
<rect x="201" y="1045" width="12.70" height="8" fill="#2e2e2e"/>
<rect x="241.5" y="1045" width="12.50" height="8" fill="#2e2e2e"/>
<rect x="67.3" y="1073.7" width="16.30" height="7.30" fill="#fff" stroke="#484848" stroke-width="0.8" rx="0.6"/>
<line x1="67.70" y1="1075.64" x2="68.90" y2="1074.10" stroke="#bbb" stroke-width="0.6"/>
<line x1="67.70" y1="1079.60" x2="72.00" y2="1074.10" stroke="#bbb" stroke-width="0.6"/>
<line x1="70.02" y1="1080.60" x2="75.10" y2="1074.10" stroke="#bbb" stroke-width="0.6"/>
<line x1="73.12" y1="1080.60" x2="78.20" y2="1074.10" stroke="#bbb" stroke-width="0.6"/>
<line x1="76.22" y1="1080.60" x2="81.30" y2="1074.10" stroke="#bbb" stroke-width="0.6"/>
<line x1="79.32" y1="1080.60" x2="83.20" y2="1075.64" stroke="#bbb" stroke-width="0.6"/>
<line x1="82.42" y1="1080.60" x2="83.20" y2="1079.60" stroke="#bbb" stroke-width="0.6"/>
<line x1="75.80" y1="1077.17" x2="78.20" y2="1074.10" stroke="#444" stroke-width="0.8"/>
<line x1="76.22" y1="1080.60" x2="81.30" y2="1074.10" stroke="#444" stroke-width="0.8"/>
<line x1="79.32" y1="1080.60" x2="83.20" y2="1075.64" stroke="#444" stroke-width="0.8"/>
<line x1="82.42" y1="1080.60" x2="83.20" y2="1079.60" stroke="#444" stroke-width="0.8"/>
<rect x="104" y="1073.7" width="17.00" height="7.30" fill="#fff" stroke="#484848" stroke-width="0.8" rx="0.6"/>
<line x1="104.40" y1="1075.64" x2="105.60" y2="1074.10" stroke="#aaa" stroke-width="0.6"/>
<line x1="104.40" y1="1079.60" x2="108.70" y2="1074.10" stroke="#aaa" stroke-width="0.6"/>
<line x1="106.72" y1="1080.60" x2="111.80" y2="1074.10" stroke="#aaa" stroke-width="0.6"/>
<line x1="109.82" y1="1080.60" x2="114.90" y2="1074.10" stroke="#aaa" stroke-width="0.6"/>
<line x1="112.92" y1="1080.60" x2="118.00" y2="1074.10" stroke="#aaa" stroke-width="0.6"/>
<line x1="116.02" y1="1080.60" x2="120.60" y2="1074.74" stroke="#aaa" stroke-width="0.6"/>
<line x1="119.12" y1="1080.60" x2="120.60" y2="1078.71" stroke="#aaa" stroke-width="0.6"/>
<rect x="136" y="1073.7" width="16.50" height="7.30" fill="#fff" stroke="#484848" stroke-width="0.8" rx="0.6"/>
<line x1="136.40" y1="1075.64" x2="137.60" y2="1074.10" stroke="#3c3c3c" stroke-width="0.8"/>
<line x1="136.40" y1="1079.60" x2="140.70" y2="1074.10" stroke="#3c3c3c" stroke-width="0.8"/>
<line x1="138.72" y1="1080.60" x2="143.80" y2="1074.10" stroke="#3c3c3c" stroke-width="0.8"/>
<line x1="141.82" y1="1080.60" x2="146.90" y2="1074.10" stroke="#3c3c3c" stroke-width="0.8"/>
<line x1="144.92" y1="1080.60" x2="150.00" y2="1074.10" stroke="#3c3c3c" stroke-width="0.8"/>
<line x1="148.02" y1="1080.60" x2="152.10" y2="1075.38" stroke="#3c3c3c" stroke-width="0.8"/>
<line x1="151.12" y1="1080.60" x2="152.10" y2="1079.35" stroke="#3c3c3c" stroke-width="0.8"/>
<rect x="169" y="1073.7" width="16.00" height="7.30" fill="#fff" stroke="#484848" stroke-width="0.8" rx="0.6"/>
<line x1="169.40" y1="1075.64" x2="170.60" y2="1074.10" stroke="#aaa" stroke-width="0.6"/>
<line x1="169.40" y1="1079.60" x2="173.70" y2="1074.10" stroke="#aaa" stroke-width="0.6"/>
<line x1="171.72" y1="1080.60" x2="176.80" y2="1074.10" stroke="#aaa" stroke-width="0.6"/>
<line x1="174.82" y1="1080.60" x2="179.90" y2="1074.10" stroke="#aaa" stroke-width="0.6"/>
<line x1="177.92" y1="1080.60" x2="183.00" y2="1074.10" stroke="#aaa" stroke-width="0.6"/>
<line x1="181.02" y1="1080.60" x2="184.60" y2="1076.02" stroke="#aaa" stroke-width="0.6"/>
<line x1="184.12" y1="1080.60" x2="184.60" y2="1079.99" stroke="#aaa" stroke-width="0.6"/>
<rect x="201" y="1073.7" width="16.50" height="7.30" fill="#fff" stroke="#484848" stroke-width="0.8" rx="0.6"/>
<line x1="201.40" y1="1075.64" x2="202.60" y2="1074.10" stroke="#3c3c3c" stroke-width="0.8"/>
<line x1="201.40" y1="1079.60" x2="205.70" y2="1074.10" stroke="#3c3c3c" stroke-width="0.8"/>
<line x1="203.72" y1="1080.60" x2="208.80" y2="1074.10" stroke="#3c3c3c" stroke-width="0.8"/>
<line x1="206.82" y1="1080.60" x2="211.90" y2="1074.10" stroke="#3c3c3c" stroke-width="0.8"/>
<line x1="209.92" y1="1080.60" x2="215.00" y2="1074.10" stroke="#3c3c3c" stroke-width="0.8"/>
<line x1="213.02" y1="1080.60" x2="217.10" y2="1075.38" stroke="#3c3c3c" stroke-width="0.8"/>
<line x1="216.12" y1="1080.60" x2="217.10" y2="1079.35" stroke="#3c3c3c" stroke-width="0.8"/>
<rect x="241.5" y="1073.7" width="16.00" height="7.30" fill="#fff" stroke="#484848" stroke-width="0.8" rx="0.6"/>
<line x1="241.90" y1="1075.64" x2="243.10" y2="1074.10" stroke="#3c3c3c" stroke-width="0.8"/>
<line x1="241.90" y1="1079.60" x2="246.20" y2="1074.10" stroke="#3c3c3c" stroke-width="0.8"/>
<line x1="244.22" y1="1080.60" x2="249.30" y2="1074.10" stroke="#3c3c3c" stroke-width="0.8"/>
<line x1="247.32" y1="1080.60" x2="252.40" y2="1074.10" stroke="#3c3c3c" stroke-width="0.8"/>
<line x1="250.42" y1="1080.60" x2="255.50" y2="1074.10" stroke="#3c3c3c" stroke-width="0.8"/>
<line x1="253.52" y1="1080.60" x2="257.10" y2="1076.02" stroke="#3c3c3c" stroke-width="0.8"/>
<line x1="256.62" y1="1080.60" x2="257.10" y2="1079.99" stroke="#3c3c3c" stroke-width="0.8"/>
</svg>
</body>
</html>
